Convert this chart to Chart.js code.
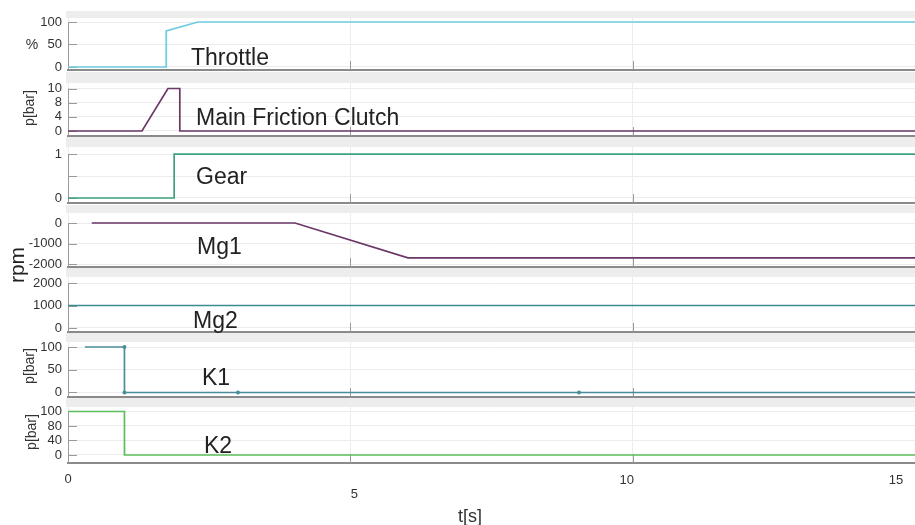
<!DOCTYPE html>
<html lang="en">
<head>
<meta charset="UTF-8">
<title>Drivetrain signals</title>
<script src="https://cdn.jsdelivr.net/npm/chart.js"></script>
<style>
  body { margin: 0; background: #fff; font-family: "Liberation Sans", Arial, sans-serif; }
  #wrap { position: relative; width: 915px; height: 525px; overflow: hidden; }
  #wrap canvas { position: absolute; left: 0; z-index: 1; }
  .lbl { position: absolute; z-index: 2; color: #222; white-space: nowrap; line-height: 1; }
  .name { font-size: 23px; }
  .unit { font-size: 14px; color: #333; transform: translate(-50%, -50%) rotate(-90deg); }
  .flat { transform: translate(-50%, -50%); }
</style>
</head>
<body>
<div id="wrap">
  <div class="lbl name" style="left:191px;top:45.5px">Throttle</div>
  <div class="lbl name" style="left:196px;top:105.5px">Main Friction Clutch</div>
  <div class="lbl name" style="left:196px;top:164.5px">Gear</div>
  <div class="lbl name" style="left:197px;top:234.5px">Mg1</div>
  <div class="lbl name" style="left:193px;top:308.5px">Mg2</div>
  <div class="lbl name" style="left:202px;top:365.5px">K1</div>
  <div class="lbl name" style="left:204px;top:433.5px">K2</div>

  <div class="lbl unit flat" style="left:32px;top:44px;transform:translate(-50%,-50%)">%</div>
  <div class="lbl unit" style="left:29px;top:108px">p[bar]</div>
  <div class="lbl unit" style="left:16px;top:265px;font-size:21px;color:#222">rpm</div>
  <div class="lbl unit" style="left:29px;top:366px">p[bar]</div>
  <div class="lbl unit" style="left:31px;top:432px">p[bar]</div>
  <div class="lbl flat" style="left:470px;top:516px;font-size:18px;color:#333">t[s]</div>
</div>

<script>
// time axis
const tTicks = [0, 5, 10, 15];
const tLabels = ['0', '5', '10', '15'];

// throttle pedal [%]
const throttleT = [0, 1.74, 1.74, 2.3, 15];
const throttleV = [0, 0, 80, 100, 100];
const throttleTicks = [0, 50, 100];
const throttleTickText = ['0', '50', '100'];

// main friction clutch pressure [bar]
const clutchT = [0, 1.31, 1.77, 1.98, 1.98, 15];
const clutchV = [0, 0, 10, 10, 0, 0];
const clutchTicks = [0, 3.33, 6.67, 10];
const clutchTickText = ['0', '4', '8', '10'];

// gear engaged
const gearT = [0, 1.88, 1.88, 15];
const gearV = [0, 0, 1, 1];
const gearTicks = [0, 0.5, 1];
const gearTickText = ['0', '', '1'];

// motor/generator speeds [rpm]
const mg1T = [0.42, 4.02, 6.02, 15];
const mg1V = [0, 0, -1700, -1700];
const mg1Ticks = [-2000, -1000, 0];
const mg1TickText = ['-2000', '-1000', '0'];

const mg2T = [0, 15];
const mg2V = [1000, 1000];
const mg2Ticks = [0, 1000, 2000];
const mg2TickText = ['0', '1000', '2000'];

// brake pressures [bar]
const k1T = [0.3, 1.0, 1.0, 3.01, 9.05, 15];
const k1V = [100, 100, 0, 0, 0, 0];
const k1Marks = [0, 2, 2, 2, 2, 0];
const k1Ticks = [0, 50, 100];
const k1TickText = ['0', '50', '100'];

const k2T = [0, 1.0, 1.0, 15];
const k2V = [100, 100, 0, 0];
const k2Ticks = [0, 33.33, 66.67, 100];
const k2TickText = ['0', '40', '80', '100'];

// strip layout: top of grey header, top of plot area, bottom axis line (page px)
const panels = [
  { t: throttleT, v: throttleV, ticks: throttleTicks, text: throttleTickText, color: '#70cbe0',
    top: 11, areaTop: 18, bottom: 70, min: -6.7, max: 108.9 },
  { t: clutchT, v: clutchV, ticks: clutchTicks, text: clutchTickText, color: '#6a3767',
    top: 72, areaTop: 83, bottom: 136, min: -1.18, max: 11.3 },
  { t: gearT, v: gearV, ticks: gearTicks, text: gearTickText, color: '#3ea37c',
    top: 137, areaTop: 147, bottom: 203, min: -0.114, max: 1.16 },
  { t: mg1T, v: mg1V, ticks: mg1Ticks, text: mg1TickText, color: '#6a3767',
    top: 205, areaTop: 213, bottom: 267, min: -2146, max: 488 },
  { t: mg2T, v: mg2V, ticks: mg2Ticks, text: mg2TickText, color: '#3d8a90',
    top: 268, areaTop: 277, bottom: 332, min: -178, max: 2267 },
  { t: k1T, v: k1V, ticks: k1Ticks, text: k1TickText, color: '#4a8d9a', marks: k1Marks,
    top: 333, areaTop: 342, bottom: 397, min: -9.9, max: 111 },
  { t: k2T, v: k2V, ticks: k2Ticks, text: k2TickText, color: '#5cbd5a',
    top: 398, areaTop: 407, bottom: 463, min: -18.4, max: 110.3 }
];

// grey header strip, left axis, inward tick marks
const stripFrame = {
  id: 'stripFrame',
  beforeDraw(chart) {
    const { ctx, chartArea: a } = chart;
    ctx.save();
    ctx.fillStyle = '#ededed';
    ctx.fillRect(a.left - 2, 0, chart.width - a.left + 2, a.top);
    ctx.restore();
  },
  beforeDatasetsDraw(chart) {
    const { ctx, chartArea: a, scales } = chart;
    const y = scales.y, x = scales.x;
    ctx.save();
    ctx.strokeStyle = '#9a9a9a';
    ctx.lineWidth = 1;
    const topTick = y.getPixelForValue(y.ticks[y.ticks.length - 1].value);
    ctx.beginPath();
    ctx.moveTo(a.left + 0.5, topTick);
    ctx.lineTo(a.left + 0.5, a.bottom);
    y.ticks.forEach(tk => {
      const py = Math.round(y.getPixelForValue(tk.value)) + 0.5;
      ctx.moveTo(a.left, py);
      ctx.lineTo(a.left + 9, py);
    });
    [5, 10].forEach(v => {
      const px = Math.round(x.getPixelForValue(v)) + 0.5;
      ctx.moveTo(px, a.bottom);
      ctx.lineTo(px, a.bottom - 9);
    });
    ctx.stroke();
    ctx.restore();
  }
};

// time tick labels under the last strip
const labelNudge = [[0, 16], [4, 31], [-6, 17], [-19, 17]];
const timeLabels = {
  id: 'timeLabels',
  afterDraw(chart) {
    const { ctx, chartArea: a, scales } = chart;
    ctx.save();
    ctx.font = '13px "Liberation Sans", Arial, sans-serif';
    ctx.fillStyle = '#333';
    ctx.textAlign = 'center';
    ctx.textBaseline = 'middle';
    tTicks.forEach((v, i) => {
      const px = scales.x.getPixelForValue(v) + labelNudge[i][0];
      ctx.fillText(tLabels[i], px, a.bottom + labelNudge[i][1]);
    });
    ctx.restore();
  }
};

const wrap = document.getElementById('wrap');

panels.forEach((p, idx) => {
  const last = idx === panels.length - 1;
  const canvas = document.createElement('canvas');
  const h = last ? 525 - p.top : p.bottom - p.top + 2;
  canvas.width = 915;
  canvas.height = h;
  canvas.style.top = p.top + 'px';
  wrap.appendChild(canvas);

  const pts = p.t.map((t, i) => ({ x: t, y: p.v[i] }));

  new Chart(canvas, {
    type: 'line',
    data: {
      datasets: [{
        data: pts,
        borderColor: p.color,
        backgroundColor: p.color,
        borderWidth: 1.7,
        tension: 0,
        pointRadius: p.marks || 0,
        pointHoverRadius: 0,
        pointBorderWidth: 0
      }]
    },
    options: {
      responsive: false,
      animation: false,
      events: [],
      layout: { padding: { top: p.areaTop - p.top, bottom: h - (p.bottom - p.top), left: 0, right: 0 } },
      plugins: { legend: { display: false }, tooltip: { enabled: false } },
      scales: {
        x: {
          type: 'linear',
          min: 0,
          max: 15,
          afterBuildTicks(s) { s.ticks = tTicks.map(v => ({ value: v })); },
          ticks: { display: false },
          grid: { color: '#ececec', lineWidth: 1, drawTicks: false },
          border: { display: true, color: '#8a8a8a', width: 2 },
          afterFit(s) { s.height = 0; s.paddingLeft = 0; s.paddingRight = 0; }
        },
        y: {
          type: 'linear',
          min: p.min,
          max: p.max,
          afterBuildTicks(s) { s.ticks = p.ticks.map(v => ({ value: v })); },
          ticks: {
            callback: (val, i) => p.text[i],
            font: { family: '"Liberation Sans", Arial, sans-serif', size: 13 },
            color: '#333',
            padding: 6,
            autoSkip: false
          },
          grid: { color: '#ececec', lineWidth: 1, drawTicks: false },
          border: { display: false },
          afterFit(s) { s.width = 68; s.paddingTop = 0; s.paddingBottom = 0; }
        }
      }
    },
    plugins: last ? [stripFrame, timeLabels] : [stripFrame]
  });
});
</script>
</body>
</html>
